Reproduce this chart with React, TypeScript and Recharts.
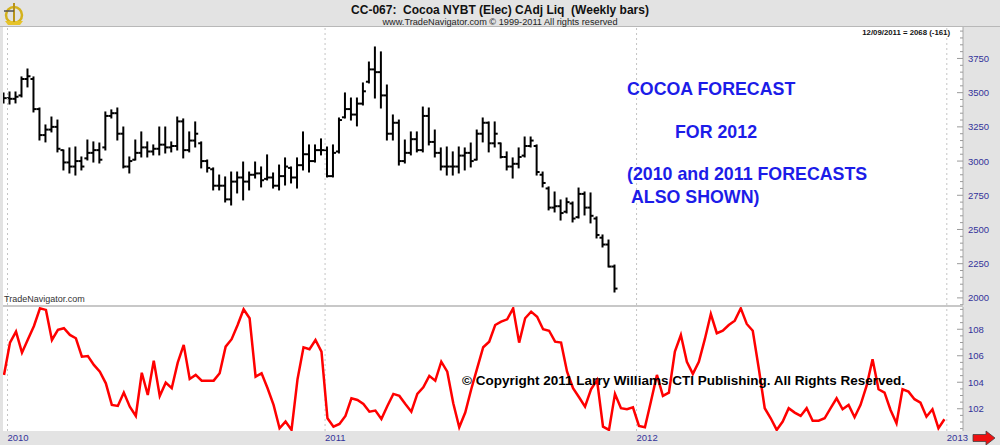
import React from 'react';
import { ComposedChart, Bar, Line, XAxis, YAxis, ReferenceLine } from 'recharts';

// Weekly OHLC bars, Cocoa NYBT, late Dec 2009 -> 12/09/2011 (week index 0..102)
const priceHigh = [
  3498, 3505, 3505, 3615, 3673, 3615, 3388, 3264, 3322, 3300,
  3081, 3096, 3103, 3030, 3154, 3140, 3132, 3359, 3374, 3388,
  3249, 3030, 3154, 3213, 3140, 3118, 3249, 3249, 3140, 3322,
  3308, 3213, 3286, 3140, 3008, 2950, 2898, 2884, 2920, 2920,
  2993, 2920, 2993, 2957, 3045, 2913, 2971, 3023, 2957, 3023,
  3213, 3118, 3118, 3162, 3103, 3118, 3315, 3498, 3461, 3461,
  3571, 3724, 3834, 3798, 3556, 3337, 3300, 3154, 3213, 3213,
  3395, 3388, 3227, 3096, 3103, 3067, 3103, 3096, 3132, 3227,
  3315, 3286, 3286, 3132, 3067, 3023, 3096, 3176, 3176, 3118,
  2920, 2811, 2774, 2716, 2730, 2701, 2803, 2774, 2767, 2592,
  2460, 2423, 2240,
];
const priceLow = [
  3425, 3417, 3425, 3469, 3542, 3359, 3154, 3140, 3213, 3067,
  2935, 2913, 2898, 2935, 3008, 2993, 2986, 3081, 3315, 3154,
  2950, 2913, 3008, 3030, 3030, 3045, 3045, 3059, 3067, 3081,
  3023, 3067, 3103, 2950, 2920, 2789, 2789, 2701, 2679, 2767,
  2716, 2789, 2876, 2811, 2862, 2803, 2789, 2825, 2840, 2803,
  2935, 2920, 2993, 3045, 2884, 2884, 3059, 3315, 3300, 3257,
  3410, 3571, 3461, 3388, 3154, 3154, 2971, 2986, 3045, 3067,
  3067, 3118, 3030, 2935, 2898, 2898, 2913, 2935, 2957, 3008,
  3140, 3067, 3103, 3023, 2935, 2876, 2950, 3030, 3103, 2898,
  2811, 2643, 2628, 2569, 2621, 2555, 2584, 2606, 2548, 2438,
  2372, 2226, 2043,
];
const priceOpen = [
  3450, 3460, 3455, 3480, 3600, 3600, 3380, 3190, 3230, 3250,
  3080, 2990, 2960, 3000, 3020, 3060, 3080, 3100, 3330, 3350,
  3200, 2960, 3010, 3060, 3100, 3070, 3090, 3120, 3100, 3110,
  3290, 3080, 3150, 3130, 3000, 2940, 2820, 2820, 2720, 2850,
  2880, 2850, 2900, 2910, 2870, 2880, 2820, 2890, 2950, 2880,
  2970, 3050, 3000, 3080, 3080, 2890, 3070, 3320, 3380, 3340,
  3420, 3580, 3670, 3650, 3480, 3200, 3280, 3000, 3060, 3160,
  3080, 3330, 3140, 3060, 2960, 2960, 2960, 3040, 3060, 3010,
  3200, 3280, 3130, 3130, 3030, 2960, 2980, 3040, 3110, 3110,
  2900, 2800, 2660, 2670, 2630, 2690, 2590, 2760, 2660, 2580,
  2440, 2390, 2229,
];
const priceClose = [
  3460, 3455, 3470, 3600, 3620, 3380, 3190, 3230, 3250, 3090,
  2990, 2960, 3000, 2960, 3060, 3080, 3010, 3330, 3350, 3200,
  2960, 3000, 3060, 3100, 3070, 3090, 3120, 3100, 3110, 3290,
  3080, 3150, 3200, 3000, 2950, 2820, 2820, 2720, 2850, 2880,
  2850, 2900, 2910, 2860, 2880, 2820, 2890, 2960, 2880, 2970,
  3050, 3000, 3080, 3080, 2890, 3060, 3300, 3380, 3340, 3420,
  3510, 3670, 3650, 3480, 3200, 3280, 3000, 3060, 3160, 3080,
  3330, 3140, 3060, 2960, 2960, 2960, 3040, 3060, 3000, 3200,
  3280, 3130, 3200, 3030, 2960, 2980, 3030, 3110, 3150, 2920,
  2840, 2660, 2670, 2620, 2700, 2580, 2760, 2660, 2600, 2460,
  2390, 2229, 2068,
];

// Forecast line (weekly, index 0..157, through end of 2012)
const forecast = [
  104.55, 106.99, 107.82, 106.23, 107.25, 108.25, 109.58, 109.46, 107.19, 107.95,
  108.08, 107.57, 107.32, 105.93, 105.98, 105.31, 104.80, 103.92, 102.29, 102.21,
  103.22, 102.16, 101.46, 104.72, 103.04, 105.63, 102.97, 103.97, 103.55, 105.48,
  106.82, 104.25, 104.55, 104.12, 104.12, 104.12, 104.68, 106.69, 107.25, 108.32,
  109.51, 108.83, 104.42, 104.68, 103.55, 102.29, 100.53, 101.03, 100.40, 104.23,
  106.64, 106.49, 107.19, 106.31, 101.28, 100.65, 100.85, 101.46, 102.79, 102.66,
  102.36, 101.78, 101.86, 101.23, 102.21, 103.12, 102.97, 102.36, 101.78, 103.12,
  103.62, 104.48, 104.12, 105.55, 104.80, 102.42, 100.60, 101.71, 103.47, 105.06,
  106.64, 107.06, 108.32, 108.57, 108.75, 109.58, 106.99, 108.83, 109.33, 108.95,
  108.00, 107.89, 107.06, 106.99, 104.80, 103.55, 102.87, 102.16, 103.47, 104.17,
  100.65, 100.40, 103.12, 102.04, 101.96, 102.11, 100.70, 100.60, 102.54, 104.55,
  102.97, 103.22, 106.31, 107.57, 105.55, 104.63, 105.55, 107.25, 109.15, 107.70,
  107.89, 108.32, 108.65, 109.58, 108.40, 107.89, 105.06, 102.04, 101.28, 100.40,
  101.03, 102.04, 101.71, 101.46, 102.04, 101.10, 101.10, 101.28, 102.04, 102.79,
  101.96, 102.29, 101.36, 102.29, 103.72, 105.74, 103.47, 103.22, 101.91, 100.91,
  103.47, 103.29, 102.72, 102.46, 101.40, 101.96, 100.53, 101.21,
];

// Axis ticks
const yearTicks = [0.58, 53.6, 105.6, 157.4];
const yearLabels = ['2010', '2011', '2012', '2013'];
const priceMajor = [2000, 2250, 2500, 2750, 3000, 3250, 3500, 3750];
const priceAllTicks = Array.from({ length: 41 }, (_, k) => 1950 + k * 50);
const fcMajor = [102, 104, 106, 108];
const fcAllTicks = Array.from({ length: 19 }, (_, k) => 100.5 + k * 0.5);

const priceData = priceHigh.map((h, i) => ({
  w: i,
  high: h,
  low: priceLow[i],
  open: priceOpen[i],
  close: priceClose[i],
}));
const fcData = forecast.map((v, i) => ({ w: i, fc: v }));

const X_DOMAIN: [number, number] = [-0.17, 160.1];
const FONT = '"Liberation Sans", Arial, Helvetica, sans-serif';
const AXIS_COLOR = '#33339a';

const OHLCShape = (props: any) => {
  const { x, y, width, height, payload } = props;
  if (payload == null || x == null) return null;
  const cx = x + width / 2;
  const y1 = Math.min(y, y + height);
  const y2 = Math.max(y, y + height);
  const span = payload.high - payload.low || 1;
  const yo = y1 + ((payload.high - payload.open) / span) * (y2 - y1);
  const yc = y1 + ((payload.high - payload.close) / span) * (y2 - y1);
  return (
    <g>
      <line x1={cx} x2={cx} y1={y1 - 0.5} y2={y2 + 0.5} stroke="#000" strokeWidth={2} />
      <line x1={cx - 3} x2={cx} y1={yo} y2={yo} stroke="#000" strokeWidth={2} />
      <line x1={cx} x2={cx + 3} y1={yc} y2={yc} stroke="#000" strokeWidth={2} />
    </g>
  );
};

const makeRightTick = (majors: number[]) => (props: any) => {
  const { x, y, payload } = props;
  const v = payload.value;
  const major = majors.some((m) => Math.abs(m - v) < 1e-6);
  const ax = x - 5;
  return (
    <g>
      <line x1={ax - (major ? 6 : 3)} x2={ax} y1={y} y2={y} stroke="#9a9a9a" strokeWidth={1} />
      {major && (
        <text x={ax + 5} y={y} dy={3.5} fontSize={9.5} fill={AXIS_COLOR} textAnchor="start" fontFamily={FONT}>
          {v}
        </text>
      )}
    </g>
  );
};

const PriceTick = makeRightTick(priceMajor);
const FcTick = makeRightTick(fcMajor);

const YearTick = (props: any) => {
  const { x, y, payload } = props;
  const idx = yearTicks.findIndex((t) => Math.abs(t - payload.value) < 1e-6);
  return (
    <text x={x} y={y + 10} fontSize={9.5} fill={AXIS_COLOR} textAnchor="start" fontFamily={FONT}>
      {idx >= 0 ? yearLabels[idx] : ''}
    </text>
  );
};

export default function App() {
  return (
    <div
      style={{
        position: 'absolute',
        left: 0,
        top: 0,
        width: 1000,
        height: 445,
        background: '#e3e3e3',
        fontFamily: FONT,
        overflow: 'hidden',
      }}
    >
      {/* header separator */}
      <div style={{ position: 'absolute', left: 0, top: 26, width: 1000, height: 1, background: '#b8b8b8' }} />
      {/* plot backgrounds */}
      <div style={{ position: 'absolute', left: 3, top: 27, width: 960, height: 278, background: '#fff' }} />
      <div style={{ position: 'absolute', left: 3, top: 305, width: 960, height: 2, background: '#c8c8c8' }} />
      <div style={{ position: 'absolute', left: 3, top: 307, width: 960, height: 124, background: '#fff' }} />

      <div style={{ position: 'absolute', left: 0, top: 27 }}>
        <ComposedChart width={1000} height={278} data={priceData} margin={{ top: 0, right: 0, bottom: 0, left: 3 }}>
          <XAxis type="number" dataKey="w" domain={X_DOMAIN} allowDataOverflow hide />
          <YAxis
            orientation="right"
            width={37}
            domain={[1948, 3980]}
            allowDataOverflow
            ticks={priceAllTicks}
            interval={0}
            tickSize={0}
            tickMargin={5}
            tickLine={false}
            axisLine={{ stroke: '#a8a8a8' }}
            tick={<PriceTick />}
          />
          {yearTicks.map((t) => (
            <ReferenceLine key={t} x={t} stroke="#c4c4c4" strokeDasharray="2 3" />
          ))}
          <Bar
            dataKey={(d: any) => [d.low, d.high]}
            barSize={3}
            shape={<OHLCShape />}
            isAnimationActive={false}
          />
        </ComposedChart>
      </div>

      <div style={{ position: 'absolute', left: 0, top: 307 }}>
        <ComposedChart width={1000} height={138} data={fcData} margin={{ top: 0, right: 0, bottom: 0, left: 3 }}>
          <XAxis
            type="number"
            dataKey="w"
            domain={X_DOMAIN}
            allowDataOverflow
            ticks={yearTicks}
            interval={0}
            height={14}
            tickSize={0}
            tickMargin={0}
            tickLine={false}
            axisLine={false}
            tick={<YearTick />}
          />
          <YAxis
            orientation="right"
            width={37}
            domain={[100.32, 109.68]}
            allowDataOverflow
            ticks={fcAllTicks}
            interval={0}
            tickSize={0}
            tickMargin={5}
            tickLine={false}
            axisLine={{ stroke: '#a8a8a8' }}
            tick={<FcTick />}
          />
          {yearTicks.map((t) => (
            <ReferenceLine key={t} x={t} stroke="#c4c4c4" strokeDasharray="2 3" />
          ))}
          <Line
            type="linear"
            dataKey="fc"
            stroke="#ff0000"
            strokeWidth={2.5}
            dot={false}
            isAnimationActive={false}
          />
        </ComposedChart>
      </div>

      {/* text overlay */}
      <svg
        width={1000}
        height={445}
        style={{ position: 'absolute', left: 0, top: 0, pointerEvents: 'none' }}
        fontFamily={FONT}
      >
        {/* logo */}
        <g>
          <circle cx={14} cy={15} r={8} fill="none" stroke="#d4b21c" strokeWidth={2.5} />
          <path d="M5 21 L23 21 L20 25 L8 25 Z" fill="#e6c32a" />
          <line x1={14} y1={3} x2={14} y2={22} stroke="#b8941a" strokeWidth={2} />
          <line x1={4} y1={11} x2={14} y2={11} stroke="#555" strokeWidth={1.5} />
        </g>
        <text x={500} y={13.5} textAnchor="middle" fontSize={12} fontWeight="bold" fill="#111">
          CC-067:{'\u00a0\u00a0'}Cocoa NYBT (Elec) CAdj Liq{'\u00a0\u00a0'}(Weekly bars)
        </text>
        <text x={500} y={24.5} textAnchor="middle" fontSize={9.2} fill="#222">
          www.TradeNavigator.com © 1999-2011 All rights reserved
        </text>
        <text x={950} y={35} textAnchor="end" fontSize={7.8} fontWeight="bold" fill="#111">
          12/09/2011 = 2068 (-161)
        </text>
        <text x={4} y={302} fontSize={9} fill="#333">
          TradeNavigator.com
        </text>

        <g fill="#1c1ce8" fontWeight="bold" fontSize={17.8}>
          <text x={627} y={95}>COCOA FORECAST</text>
          <text x={675} y={138}>FOR 2012</text>
          <text x={627} y={180}>(2010 and 2011 FORECASTS</text>
          <text x={631} y={203}>ALSO SHOWN)</text>
        </g>

        <text x={462} y={385} fontSize={13.5} fontWeight="bold" fill="#000">
          © Copyright 2011 Larry Williams CTI Publishing. All Rights Reserved.
        </text>

        {/* arrow bottom right */}
        <path d="M973 434.5 L986 434.5 L986 431 L995 438 L986 445 L986 441.5 L973 441.5 Z" fill="#ee1111" stroke="#444" strokeWidth={0.8} />
      </svg>
    </div>
  );
}
